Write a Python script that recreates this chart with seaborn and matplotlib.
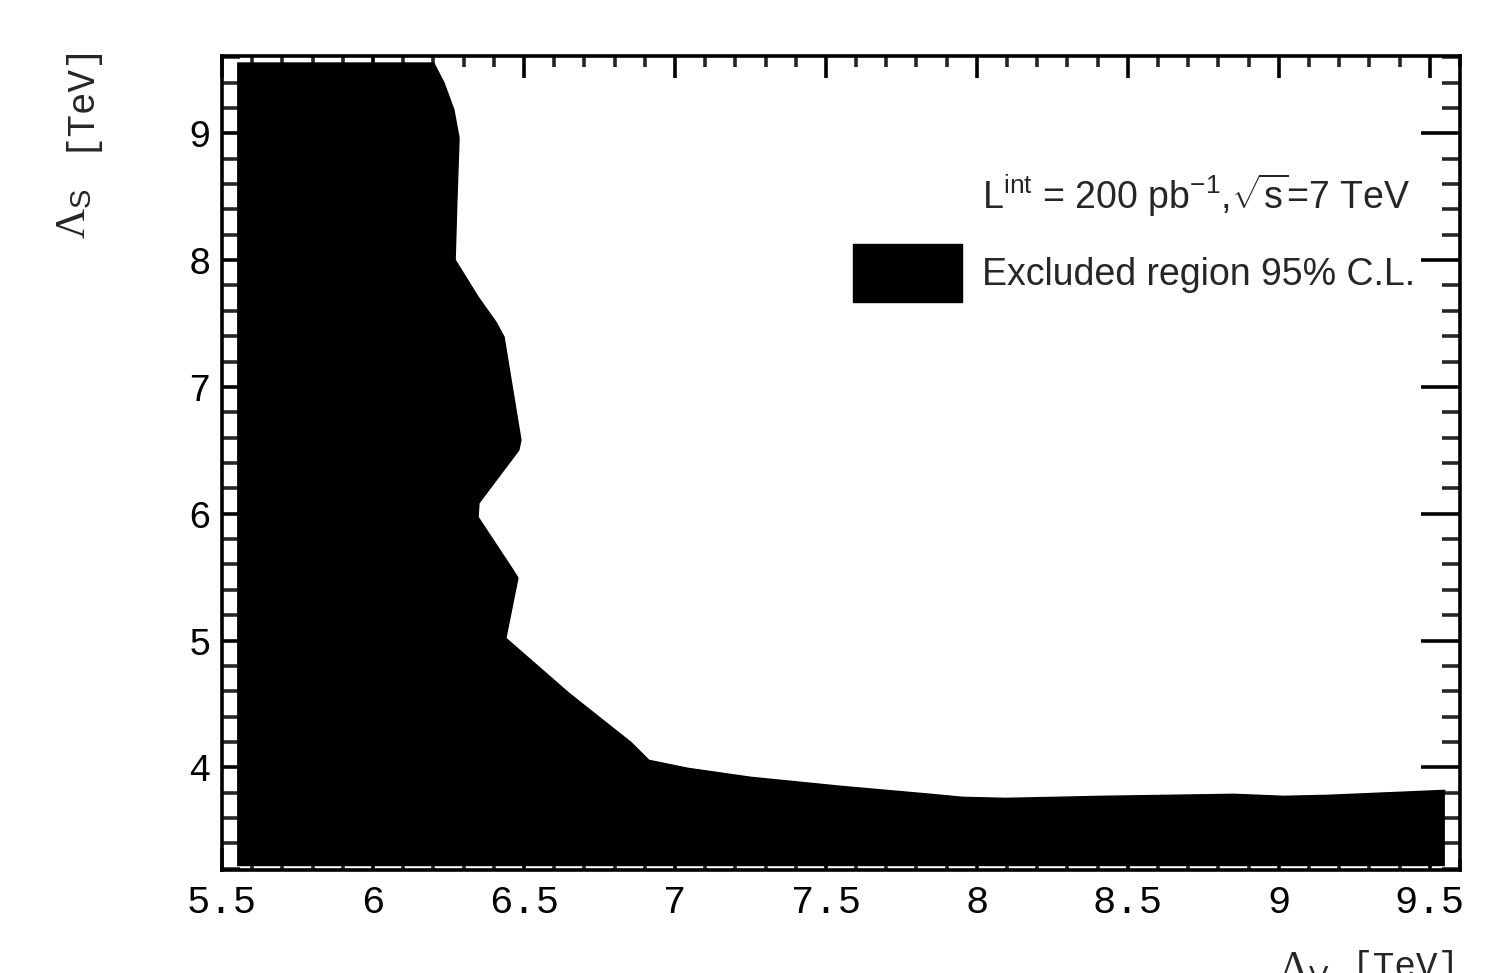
import numpy as np
import pandas as pd
import seaborn as sns
import matplotlib.pyplot as plt
from matplotlib.patches import Patch
from matplotlib.ticker import MultipleLocator, FuncFormatter

# edge of the excluded region, Lambda_V vs Lambda_S [TeV], top to bottom-right
lam_v = [6.20, 6.235, 6.268, 6.285, 6.278, 6.272, 6.348, 6.407, 6.434, 6.490, 6.483,
         6.351, 6.348, 6.464, 6.480, 6.440, 6.649, 6.854, 6.914, 7.043, 7.252, 7.550,
         7.848, 7.954, 8.096, 8.411, 8.851, 9.017, 9.162, 9.55]
lam_s = [9.56, 9.399, 9.185, 8.964, 8.475, 8.002, 7.710, 7.512, 7.394, 6.581, 6.502,
         6.084, 5.973, 5.555, 5.492, 5.018, 4.584, 4.197, 4.055, 3.992, 3.921, 3.850,
         3.787, 3.763, 3.755, 3.771, 3.787, 3.771, 3.779, 3.818]

# range of the scan grid
scan_v = [5.55, 9.55]
scan_s = [3.22, 9.56]

x_ticks = [5.5, 6, 6.5, 7, 7.5, 8, 8.5, 9, 9.5]
y_ticks = [4, 5, 6, 7, 8, 9]

df = pd.DataFrame({'lv': lam_v, 'ls': lam_s})

sns.set_theme(style='white')
plt.rcParams['font.family'] = ['Liberation Mono', 'DejaVu Sans']
plt.rcParams['mathtext.fontset'] = 'custom'
plt.rcParams['mathtext.rm'] = 'Liberation Sans'
plt.rcParams['mathtext.it'] = 'Liberation Sans:italic'

fig = plt.figure(figsize=(15.06, 9.73), dpi=100)
ax = fig.add_axes([222 / 1506, 1 - 870 / 973, (1460 - 222) / 1506, (870 - 56) / 973])

# closed polygon: boundary + scan corners
poly_v = lam_v + [scan_v[1], scan_v[0], scan_v[0]]
poly_s = lam_s + [scan_s[0], scan_s[0], scan_s[1]]
ax.fill(poly_v, poly_s, color='black', lw=0, zorder=1)
sns.lineplot(data=df, x='lv', y='ls', sort=False, estimator=None,
             color='black', lw=1, ax=ax, zorder=2)

ax.set_xlim(5.5, 9.6)
ax.set_ylim(3.19, 9.61)
ax.set_xticks(x_ticks)
ax.set_yticks(y_ticks)
ax.xaxis.set_minor_locator(MultipleLocator(0.1))
ax.yaxis.set_minor_locator(MultipleLocator(0.2))
fmt = FuncFormatter(lambda v, p: '%g' % v)
ax.xaxis.set_major_formatter(fmt)
ax.yaxis.set_major_formatter(fmt)

ax.tick_params(axis='x', which='major', direction='in', top=True, bottom=True,
               length=16, width=2.6, labelsize=28, pad=11, colors='black')
ax.tick_params(axis='x', which='minor', direction='in', top=True, bottom=True,
               length=8, width=2.6)
ax.tick_params(axis='y', which='major', direction='in', left=True, right=True,
               length=28, width=2.6, labelsize=27, pad=8, colors='black')
ax.tick_params(axis='y', which='minor', direction='in', left=True, right=True,
               length=13, width=2.6)
for s in ax.spines.values():
    s.set_linewidth(2.6)
    s.set_color('black')
    s.set_zorder(5)

ax.set_xlabel('')
ax.set_ylabel('')
# axis titles, ROOT style
ax.text(-0.117, 1.022, '[TeV]', rotation=90, ha='center', va='top',
        fontsize=27, transform=ax.transAxes)
ax.text(-0.119, 0.838, 'Λ$_{\\mathrm{S}}$', rotation=90, ha='center', va='top',
        fontsize=30, family='Liberation Serif', transform=ax.transAxes)
ax.text(1.0, -0.098, '[TeV]', ha='right', va='top',
        fontsize=26, transform=ax.transAxes)
ax.text(0.853, -0.098, 'Λ$_{\\mathrm{V}}$', ha='left', va='top',
        fontsize=30, family='Liberation Serif', transform=ax.transAxes)

handles = [Patch(facecolor='none', edgecolor='none'),
           Patch(facecolor='black', edgecolor='black')]
labels = [r'L$^{\rm int}$ = 200 pb$^{\rm {-}1}$,$\sqrt{\rm s}$=7 TeV',
          'Excluded region 95% C.L.']
leg = ax.legend(handles, labels, loc='upper left', bbox_to_anchor=(0.5097, 0.862),
                frameon=False, borderpad=0, borderaxespad=0,
                handlelength=2.9, handleheight=2.0, handletextpad=0.53,
                labelspacing=0.47, prop={'family': 'Liberation Sans', 'size': 27})

plt.savefig('out.png', dpi=100)
